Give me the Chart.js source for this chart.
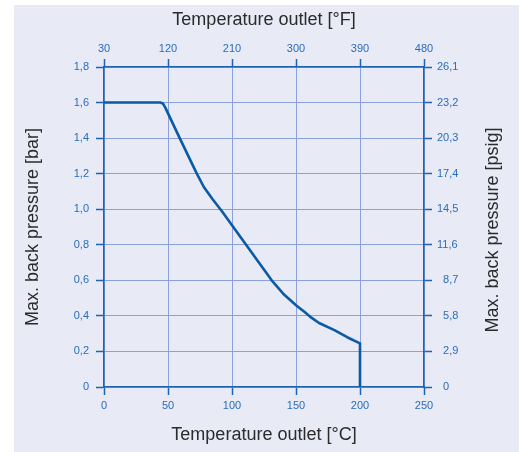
<!DOCTYPE html>
<html>
<head>
<meta charset="utf-8">
<script src="https://cdn.jsdelivr.net/npm/chart.js@4/dist/chart.umd.min.js"></script>
<style>
  html, body { margin: 0; padding: 0; background: #ffffff; }
  canvas { display: block; }
</style>
</head>
<body>
<canvas id="chart" width="523" height="452"></canvas>
<script>
// Outlet temperature (°C) and maximum back pressure (bar)
const tempC = [0, 44, 46, 48, 58.5, 72.5, 78, 85, 92, 100, 111, 120, 131, 140, 150, 157, 162, 168, 180, 190, 200, 200];
const pressureBar = [1.6, 1.6, 1.595, 1.57, 1.41, 1.2, 1.125, 1.055, 0.99, 0.91, 0.8, 0.71, 0.6, 0.525, 0.46, 0.42, 0.39, 0.36, 0.32, 0.28, 0.245, 0];

// Axis tick labels
const celsiusLabels = ['0', '50', '100', '150', '200', '250'];
const fahrenheitLabels = ['30', '120', '210', '300', '390', '480'];
const barLabels = ['0', '0,2', '0,4', '0,6', '0,8', '1,0', '1,2', '1,4', '1,6', '1,8'];
const psigLabels = ['\u20070', '\u20072,9', '\u20075,8', '\u20078,7', '11,6', '14,5', '17,4', '20,3', '23,2', '26,1'];
const psigTitle = 'Max. back pressure [psig]';

const FONT = "'Liberation Sans', Arial, Helvetica, sans-serif";
const TICK_COLOR = '#2a6dbb';
const AXIS_COLOR = '#1d62b4';
const GRID_COLOR = '#8ba2d8';
const TITLE_COLOR = '#2b2b2b';

const points = tempC.map((t, i) => ({ x: t, y: pressureBar[i] }));

const panelBackground = {
  id: 'panelBackground',
  beforeDraw(chart) {
    const ctx = chart.ctx;
    ctx.save();
    ctx.fillStyle = '#ffffff';
    ctx.fillRect(0, 0, chart.width, chart.height);
    ctx.fillStyle = '#e8eaf6';
    ctx.fillRect(14, 5, 505, 447);
    ctx.restore();
  }
};

// Right-hand axis title, reading bottom-to-top like the left one
const rightAxisTitle = {
  id: 'rightAxisTitle',
  afterDraw(chart) {
    const scale = chart.scales.yRight;
    const ctx = chart.ctx;
    ctx.save();
    ctx.translate(scale.right - 30, (scale.top + scale.bottom) / 2 + 3);
    ctx.rotate(-Math.PI / 2);
    ctx.fillStyle = TITLE_COLOR;
    ctx.font = '18px ' + FONT;
    ctx.textAlign = 'center';
    ctx.textBaseline = 'middle';
    ctx.fillText(psigTitle, 0, 0);
    ctx.restore();
  }
};

function fixedWidth(w) { return (scale) => { scale.width = w; }; }
function fixedHeight(h) { return (scale) => { scale.height = h; }; }

const tickFont = { family: FONT, size: 11 };
const titleFont = { family: FONT, size: 18 };

new Chart(document.getElementById('chart'), {
  type: 'line',
  data: {
    datasets: [{
      data: points,
      borderColor: '#0b5aa6',
      borderWidth: 2.6,
      pointRadius: 0,
      tension: 0,
      borderJoinStyle: 'round',
      fill: false
    }]
  },
  options: {
    responsive: false,
    animation: false,
    layout: { padding: 0 },
    plugins: { legend: { display: false }, tooltip: { enabled: false } },
    scales: {
      x: {
        type: 'linear', position: 'bottom', min: 0, max: 250,
        afterFit: fixedHeight(65),
        ticks: {
          stepSize: 50, color: TICK_COLOR, font: tickFont, padding: 4,
          maxRotation: 0,
          callback: (v, i) => celsiusLabels[i]
        },
        grid: { color: GRID_COLOR, lineWidth: 1, tickColor: AXIS_COLOR, tickLength: 8, tickWidth: 1.5 },
        border: { color: AXIS_COLOR, width: 1.5 },
        title: { display: true, text: 'Temperature outlet [°C]', color: TITLE_COLOR, font: titleFont, padding: { top: 0, bottom: 6 } }
      },
      xTop: {
        type: 'linear', position: 'top', min: 0, max: 250,
        afterFit: fixedHeight(67),
        ticks: {
          stepSize: 50, color: TICK_COLOR, font: tickFont, padding: 3,
          maxRotation: 0,
          callback: (v, i) => fahrenheitLabels[i]
        },
        grid: { drawOnChartArea: false, tickColor: AXIS_COLOR, tickLength: 8, tickWidth: 1.5 },
        border: { color: AXIS_COLOR, width: 1.5 },
        title: { display: true, text: 'Temperature outlet [°F]', color: TITLE_COLOR, font: titleFont, padding: { top: 9, bottom: 0 } }
      },
      y: {
        type: 'linear', position: 'left', min: 0, max: 1.8,
        afterFit: fixedWidth(104),
        ticks: {
          stepSize: 0.2, color: TICK_COLOR, font: tickFont, padding: 7,
          callback: (v, i) => barLabels[i]
        },
        grid: { color: GRID_COLOR, lineWidth: 1, tickColor: AXIS_COLOR, tickLength: 8, tickWidth: 1.5 },
        border: { color: AXIS_COLOR, width: 1.5 },
        title: { display: true, text: 'Max. back pressure [bar]', color: TITLE_COLOR, font: titleFont, padding: { top: 22, bottom: 0 } }
      },
      yRight: {
        type: 'linear', position: 'right', min: 0, max: 1.8,
        afterFit: fixedWidth(99),
        ticks: {
          stepSize: 0.2, color: TICK_COLOR, font: tickFont, padding: 5,
          callback: (v, i) => psigLabels[i]
        },
        grid: { drawOnChartArea: false, tickColor: AXIS_COLOR, tickLength: 8, tickWidth: 1.5 },
        border: { color: AXIS_COLOR, width: 1.5 },
        title: { display: false }
      }
    }
  },
  plugins: [panelBackground, rightAxisTitle]
});
</script>
</body>
</html>
